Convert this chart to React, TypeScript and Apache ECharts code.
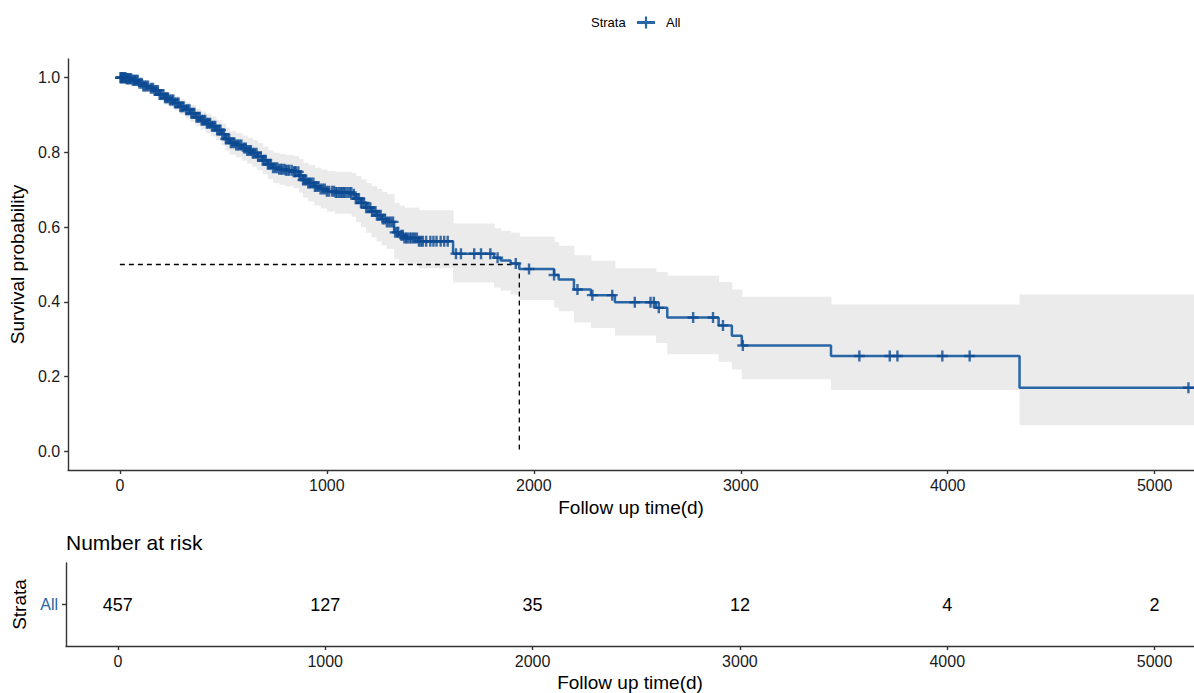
import React, { useEffect, useRef } from "react";
import * as echarts from "echarts";

const FONT = "Liberation Sans, Arial, sans-serif";

// Kaplan-Meier steps (time in days, survival, 95% CI)
const STEP_TIMES = [0,30,60,90,110,140,165,190,215,240,265,290,315,340,365,390,415,440,465,490,510,530,560,590,615,640,665,690,715,740,770,800,840,865,885,910,940,970,1000,1040,1120,1140,1165,1190,1215,1240,1265,1290,1325,1350,1375,1445,1610,1808,1840,1888,1930,2098,2120,2194,2276,2392,2590,2645,2893,2957,3005,3436,4347];
const SURV = [1.0,0.997,0.993,0.985,0.978,0.972,0.966,0.955,0.946,0.94,0.932,0.922,0.914,0.905,0.894,0.886,0.878,0.87,0.86,0.849,0.836,0.826,0.82,0.812,0.805,0.798,0.789,0.779,0.768,0.759,0.755,0.752,0.748,0.738,0.726,0.718,0.709,0.702,0.696,0.693,0.688,0.676,0.665,0.652,0.642,0.632,0.622,0.614,0.586,0.578,0.571,0.562,0.529,0.518,0.511,0.503,0.488,0.472,0.46,0.433,0.418,0.399,0.384,0.358,0.337,0.309,0.283,0.255,0.17];
const LOWER = [1.0,0.991,0.985,0.974,0.965,0.958,0.951,0.938,0.928,0.921,0.912,0.901,0.892,0.882,0.87,0.861,0.852,0.843,0.832,0.819,0.805,0.794,0.787,0.778,0.77,0.762,0.752,0.741,0.729,0.718,0.713,0.709,0.704,0.692,0.679,0.669,0.658,0.65,0.642,0.636,0.628,0.613,0.6,0.585,0.573,0.562,0.551,0.542,0.515,0.506,0.5,0.49,0.452,0.438,0.43,0.42,0.405,0.385,0.375,0.345,0.33,0.31,0.29,0.26,0.24,0.219,0.193,0.164,0.07];
const UPPER = [1.0,1.0,0.998,0.993,0.988,0.984,0.979,0.97,0.962,0.957,0.95,0.942,0.935,0.927,0.917,0.91,0.903,0.896,0.887,0.877,0.866,0.857,0.852,0.845,0.839,0.833,0.825,0.816,0.806,0.799,0.796,0.793,0.79,0.782,0.772,0.766,0.759,0.754,0.75,0.748,0.745,0.737,0.728,0.718,0.71,0.702,0.694,0.688,0.665,0.657,0.652,0.645,0.61,0.597,0.59,0.585,0.575,0.56,0.55,0.525,0.51,0.49,0.48,0.47,0.453,0.433,0.414,0.393,0.42];

// censored observation times (days)
const CENSOR_TIMES = [3,5,8,12,15,20,24,28,32,36,40,45,50,55,62,68,74,80,86,95,105,113,120,128,136,150,160,168,175,183,192,200,210,218,225,232,242,250,258,266,275,283,292,300,308,320,328,336,345,352,360,370,378,386,395,403,412,420,428,436,445,453,461,470,478,486,495,503,512,520,528,536,545,553,562,570,578,587,600,608,615,625,633,642,650,660,668,680,690,698,705,715,722,730,740,750,760,770,778,785,795,802,810,818,830,840,845,850,862,868,875,885,893,900,910,917,925,935,942,950,960,970,980,990,1000,1010,1025,1035,1043,1050,1060,1068,1075,1082,1090,1100,1110,1118,1130,1140,1147,1155,1165,1172,1180,1190,1200,1210,1218,1225,1235,1242,1250,1260,1270,1280,1290,1300,1310,1320,1330,1340,1345,1360,1367,1375,1383,1390,1400,1408,1417,1425,1435,1445,1455,1464,1480,1500,1515,1530,1550,1567,1584,1624,1648,1712,1745,1790,1825,1913,1977,2098,2211,2283,2379,2488,2564,2580,2604,2770,2866,2914,3010,3573,3720,3757,3974,4106,5163];

const MEDIAN_TIME = 1930;
const MEDIAN_SURV = 0.5;

const RISK_TIMES = [0, 1000, 2000, 3000, 4000, 5000];
const RISK_COUNTS = [457, 127, 35, 12, 4, 2];
const STRATA = ["All"];

const X_TICKS = [0, 1000, 2000, 3000, 4000, 5000];
const Y_TICKS = [0, 0.2, 0.4, 0.6, 0.8, 1.0];
const X_MIN = -250;
const X_MAX = 5190;

const LINE_COLOR = "#2866a6";
const CENSOR_COLOR = "#0c4a92";
const AXIS_COLOR = "#333333";

function survAt(t: number): number {
  let s = SURV[0];
  for (let i = 0; i < STEP_TIMES.length; i++) {
    if (STEP_TIMES[i] <= t) s = SURV[i];
  }
  return s;
}

export default function App() {
  const ref = useRef<HTMLDivElement>(null);
  useEffect(() => {
    document.body.style.margin = "0";
    if (!ref.current) return;
    const chart = echarts.init(ref.current, null, { renderer: "svg" });

    const lineData = STEP_TIMES.map((t, i) => [t, SURV[i]]);
    lineData.push([X_MAX, SURV[SURV.length - 1]]);
    const bandData = STEP_TIMES.map((t, i) => [
      t,
      i + 1 < STEP_TIMES.length ? STEP_TIMES[i + 1] : X_MAX,
      LOWER[i],
      UPPER[i],
    ]);
    const censorData = CENSOR_TIMES.map((t) => [t, survAt(t)]);
    const riskData = RISK_TIMES.map((t, i) => [t, 0, RISK_COUNTS[i]]);

    const axisLine = { show: true, onZero: false, lineStyle: { color: AXIS_COLOR, width: 1.4 } };
    const axisTick = { show: true, length: 4, lineStyle: { color: AXIS_COLOR, width: 1.4 } };
    const tickLabel = { color: "#1a1a1a", fontSize: 16, fontFamily: FONT };

    const xAxisCommon = (gridIndex: number, gap: number) => ({
      type: "value",
      gridIndex,
      min: X_MIN,
      max: X_MAX,
      name: "Follow up time(d)",
      nameLocation: "middle",
      nameGap: gap,
      nameTextStyle: { color: "#000", fontSize: 19, fontFamily: FONT },
      axisLine,
      axisTick: { ...axisTick, customValues: X_TICKS },
      axisLabel: { ...tickLabel, margin: 7, customValues: X_TICKS, formatter: (v: number) => String(v) },
      splitLine: { show: false },
    });

    const option: any = {
      animation: false,
      backgroundColor: "#ffffff",
      textStyle: { fontFamily: FONT },
      legend: {
        data: [{ name: "All", icon: "path://M0,4.6H18V7.4H0Z M7.9,0H10.1V12H7.9Z" }],
        left: 637,
        top: 16,
        padding: 0,
        itemWidth: 18,
        itemHeight: 12,
        textStyle: { fontSize: 13, color: "#000", fontFamily: FONT, padding: [0, 0, 0, 6] },
      },
      graphic: [
        {
          type: "text",
          x: 591,
          y: 22,
          style: { text: "Strata", fontSize: 13, fontFamily: FONT, fill: "#000", verticalAlign: "middle" },
        },
        {
          type: "text",
          x: 66,
          y: 542,
          style: { text: "Number at risk", fontSize: 21, fontFamily: FONT, fill: "#000", verticalAlign: "middle" },
        },
      ],
      grid: [
        { left: 66, top: 59, right: 0, height: 411 },
        { left: 66, top: 563, right: 0, height: 83 },
      ],
      xAxis: [xAxisCommon(0, 25), xAxisCommon(1, 27)],
      yAxis: [
        {
          type: "value",
          gridIndex: 0,
          min: -0.05,
          max: 1.05,
          name: "Survival probability",
          nameLocation: "middle",
          nameGap: 38,
          nameTextStyle: { color: "#000", fontSize: 19, fontFamily: FONT },
          axisLine,
          axisTick: { ...axisTick, customValues: Y_TICKS },
          axisLabel: {
            ...tickLabel,
            margin: 8,
            customValues: Y_TICKS,
            formatter: (v: number) => v.toFixed(1),
          },
          splitLine: { show: false },
        },
        {
          type: "category",
          gridIndex: 1,
          data: STRATA,
          name: "Strata",
          nameLocation: "middle",
          nameGap: 36,
          nameTextStyle: { color: "#000", fontSize: 19, fontFamily: FONT },
          axisLine,
          axisTick: { ...axisTick, alignWithLabel: true },
          axisLabel: { color: LINE_COLOR, fontSize: 16, fontFamily: FONT, margin: 8 },
          splitLine: { show: false },
        },
      ],
      series: [
        {
          type: "custom",
          name: "CI",
          xAxisIndex: 0,
          yAxisIndex: 0,
          data: bandData,
          encode: { x: [0, 1], y: [2, 3] },
          z: 1,
          silent: true,
          clip: true,
          renderItem: (params: any, api: any) => {
            const p0 = api.coord([api.value(0), api.value(3)]);
            const p1 = api.coord([api.value(1), api.value(2)]);
            return {
              type: "rect",
              shape: { x: p0[0], y: p0[1], width: p1[0] - p0[0] + 0.5, height: p1[1] - p0[1] },
              style: { fill: "#ebebeb" },
            };
          },
        },
        {
          type: "line",
          name: "median-h",
          xAxisIndex: 0,
          yAxisIndex: 0,
          data: [[0, MEDIAN_SURV], [MEDIAN_TIME, MEDIAN_SURV]],
          showSymbol: false,
          symbol: "none",
          z: 2,
          silent: true,
          lineStyle: { color: "#000", width: 1.3, type: [5, 4] },
        },
        {
          type: "line",
          name: "median-v",
          xAxisIndex: 0,
          yAxisIndex: 0,
          data: [[MEDIAN_TIME, MEDIAN_SURV], [MEDIAN_TIME, 0]],
          showSymbol: false,
          symbol: "none",
          z: 2,
          silent: true,
          lineStyle: { color: "#000", width: 1.3, type: [5, 4] },
        },
        {
          type: "line",
          name: "All",
          xAxisIndex: 0,
          yAxisIndex: 0,
          step: "end",
          data: lineData,
          showSymbol: false,
          symbol: "none",
          color: LINE_COLOR,
          z: 3,
          lineStyle: { color: LINE_COLOR, width: 2.5 },
        },
        {
          type: "scatter",
          name: "censor",
          xAxisIndex: 0,
          yAxisIndex: 0,
          data: censorData,
          symbol: "path://M3.9,0H6.1V3.9H10V6.1H6.1V10H3.9V6.1H0V3.9H3.9Z",
          symbolSize: [11, 11],
          itemStyle: { color: CENSOR_COLOR },
          z: 4,
          silent: true,
        },
        {
          type: "custom",
          name: "risk",
          xAxisIndex: 1,
          yAxisIndex: 1,
          data: riskData,
          encode: { x: 0, y: 1 },
          z: 3,
          silent: true,
          renderItem: (params: any, api: any) => {
            const p = api.coord([api.value(0), api.value(1)]);
            return {
              type: "text",
              x: p[0],
              y: p[1],
              style: {
                text: String(api.value(2)),
                fontSize: 18,
                fontFamily: FONT,
                fill: "#000",
                align: "center",
                verticalAlign: "middle",
              },
            };
          },
        },
      ],
    };

    chart.setOption(option);
    return () => chart.dispose();
  }, []);

  return <div ref={ref} style={{ width: 1194, height: 693 }} />;
}
